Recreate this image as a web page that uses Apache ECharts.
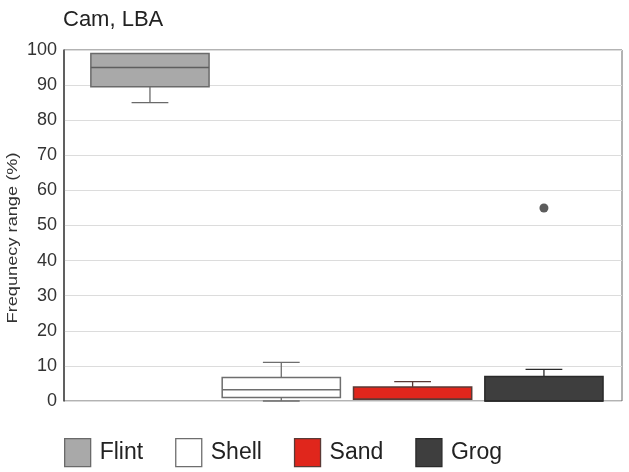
<!DOCTYPE html>
<html>
<head>
<meta charset="utf-8">
<script src="https://cdn.jsdelivr.net/npm/echarts@6/dist/echarts.min.js"></script>
<style>
  html, body { margin: 0; padding: 0; background: #ffffff; }
  #chart { width: 629px; height: 472px; }
</style>
</head>
<body>
<div id="chart"></div>
<script>
// Temper categories and their five-number summaries: [min, Q1, median, Q3, max]
const categories = ['Flint', 'Shell', 'Sand', 'Grog'];
const flintStats = [85, 89.5, 95, 99, 99];
const shellStats = [0, 1, 3.2, 6.7, 11];
const sandStats = [0.5, 0.5, 0.5, 4, 5.5];
const grogStats = [0, 0, 0, 7, 9];
const grogOutliers = [55];
const yTicks = [0, 10, 20, 30, 40, 50, 60, 70, 80, 90, 100];

const FONT = '"Liberation Sans", Arial, sans-serif';

// Look of each box: fill, outline, median line
const boxLooks = [
  { fill: '#a9a9a9', stroke: '#6a6a6a', median: '#5e5e5e' },
  { fill: '#ffffff', stroke: '#6e6e6e', median: '#6e6e6e' },
  { fill: '#e0261c', stroke: '#5a3a36', median: '#5a3a36' },
  { fill: '#3e3e3e', stroke: '#2a2a2a', median: '#2a2a2a' }
];

const allStats = [flintStats, shellStats, sandStats, grogStats];

function renderBox(params, api) {
  const look = boxLooks[params.seriesIndex];
  const x = api.value(0);
  const lo = api.coord([x, api.value(1)]);
  const q1 = api.coord([x, api.value(2)]);
  const med = api.coord([x, api.value(3)]);
  const q3 = api.coord([x, api.value(4)]);
  const hi = api.coord([x, api.value(5)]);
  const band = api.size([1, 0])[0];
  const bw = band * 0.9;
  const cw = band * 0.28;
  const cx = lo[0];
  const children = [];
  const lineStyle = { stroke: look.stroke, lineWidth: 1.3 };
  if (hi[1] < q3[1] - 0.5) {
    children.push({ type: 'line', shape: { x1: cx, y1: q3[1], x2: cx, y2: hi[1] }, style: lineStyle });
    children.push({ type: 'line', shape: { x1: cx - cw / 2, y1: hi[1], x2: cx + cw / 2, y2: hi[1] }, style: lineStyle });
  }
  if (lo[1] > q1[1] + 0.5) {
    children.push({ type: 'line', shape: { x1: cx, y1: q1[1], x2: cx, y2: lo[1] }, style: lineStyle });
    children.push({ type: 'line', shape: { x1: cx - cw / 2, y1: lo[1], x2: cx + cw / 2, y2: lo[1] }, style: lineStyle });
  }
  children.push({
    type: 'rect',
    shape: { x: cx - bw / 2, y: q3[1], width: bw, height: q1[1] - q3[1] },
    style: { fill: look.fill, stroke: look.stroke, lineWidth: 1.5 }
  });
  children.push({
    type: 'line',
    shape: { x1: cx - bw / 2, y1: med[1], x2: cx + bw / 2, y2: med[1] },
    style: { stroke: look.median, lineWidth: 1.5 }
  });
  return { type: 'group', children: children };
}

const boxSeries = categories.map(function (name, i) {
  return {
    name: name,
    type: 'custom',
    xAxisIndex: 1,
    yAxisIndex: 1,
    renderItem: renderBox,
    encode: { x: 0, y: [1, 2, 3, 4, 5] },
    itemStyle: { color: boxLooks[i].fill, borderColor: boxLooks[i].stroke },
    data: [[i].concat(allStats[i])],
    z: 3
  };
});

const outlierSeries = {
  name: 'Grog',
  type: 'scatter',
  xAxisIndex: 1,
  yAxisIndex: 1,
  symbol: 'circle',
  symbolSize: 9,
  itemStyle: { color: '#333333' },
  data: grogOutliers.map(function (v) { return [3, v]; }),
  z: 4
};

const chart = echarts.init(document.getElementById('chart'), null, { renderer: 'canvas' });

chart.setOption({
  backgroundColor: '#ffffff',
  animation: false,
  title: {
    text: 'Cam, LBA',
    left: 63,
    top: 9,
    padding: 0,
    textStyle: { fontFamily: FONT, fontSize: 22, fontWeight: 'normal', color: '#222222' }
  },
  legend: {
    left: 64,
    top: 438,
    padding: 0,
    itemWidth: 26,
    itemHeight: 28,
    itemGap: 32,
    icon: 'rect',
    textStyle: { fontFamily: FONT, fontSize: 23, color: '#222222', padding: [0, 0, 0, 4] },
    data: categories.map(function (name, i) {
      return {
        name: name,
        icon: 'rect',
        itemStyle: { color: boxLooks[i].fill, borderColor: boxLooks[i].stroke, borderWidth: 1.3 }
      };
    })
  },
  grid: [
    { left: 64, top: 50, width: 558, height: 351, show: true, borderColor: '#666666', borderWidth: 1, backgroundColor: 'transparent' },
    { left: 84.3, top: 50, width: 525.3, height: 351 }
  ],
  xAxis: [
    { gridIndex: 0, type: 'value', min: 0, max: 1, show: false },
    { gridIndex: 1, type: 'category', data: categories, boundaryGap: true, show: false }
  ],
  yAxis: [
    {
      gridIndex: 0,
      type: 'value',
      min: yTicks[0],
      max: yTicks[yTicks.length - 1],
      interval: 10,
      axisLine: { show: true, lineStyle: { color: '#444444', width: 1.5 } },
      axisTick: { show: false },
      axisLabel: { fontFamily: FONT, fontSize: 18, color: '#333333', margin: 7 },
      splitLine: { show: true, lineStyle: { color: '#dcdcdc', width: 1 } }
    },
    { gridIndex: 1, type: 'value', min: 0, max: 100, show: false }
  ],
  graphic: [
    {
      type: 'text',
      x: 13.5,
      y: 238,
      rotation: Math.PI / 2,
      scaleX: 1.3,
      style: {
        text: 'Frequnecy range (%)',
        font: '14px ' + FONT,
        fill: '#333333',
        align: 'center',
        verticalAlign: 'middle'
      }
    }
  ],
  series: boxSeries.concat([outlierSeries])
});
</script>
</body>
</html>
